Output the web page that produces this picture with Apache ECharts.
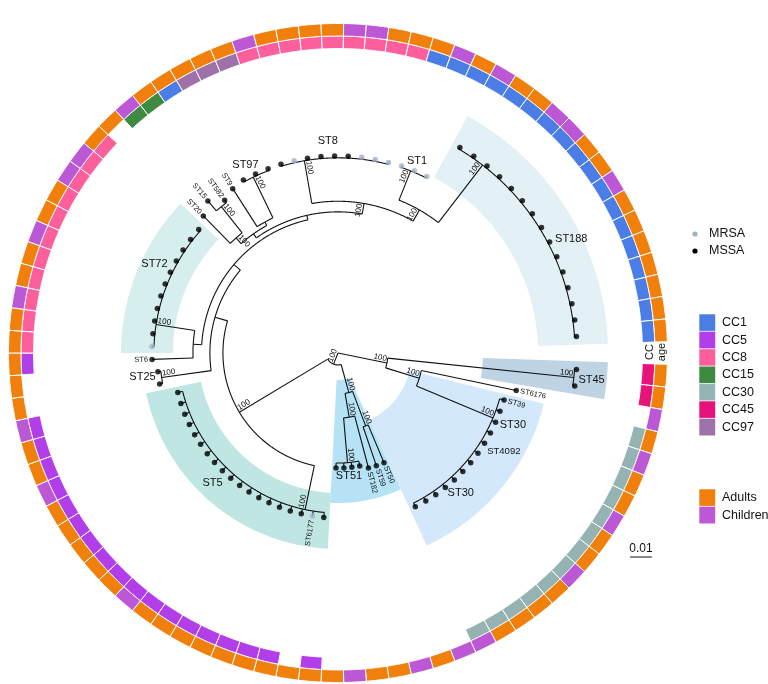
<!DOCTYPE html>
<html>
<head>
<meta charset="utf-8">
<script src="https://cdn.jsdelivr.net/npm/echarts@6/dist/echarts.min.js"></script>
<style>
html,body{margin:0;padding:0;background:#ffffff;}
#chart{width:768px;height:684px;}
</style>
</head>
<body>
<div id="chart"></div>
<script>
// ======================= DATA =======================
// Tips in clockwise order, starting just below 3 o'clock.
const tipSTRuns = [['ST45',2],['ST6176',1],['ST39',1],['ST30',12],['ST50',1],['ST59',1],['ST182',1],['ST51',4],
  ['ST5',1],['ST6177',1],['ST5',17],['ST25',2],['ST6',1],['ST72',11],['ST20',1],['ST15',1],['ST582',1],['ST9',1],
  ['ST97',3],['ST8',9],['ST1',3],['ST188',15]];

const tipCC = [
  'CC45','CC45','','CC30','CC30','CC30','CC30','CC30','CC30','CC30',
  'CC30','CC30','CC30','CC30','CC30','CC30','','','','',
  '','','','CC5','','CC5','CC5','CC5','CC5','CC5',
  'CC5','CC5','CC5','CC5','CC5','CC5','CC5','CC5','CC5','CC5',
  'CC5','CC5','','','CC5','CC8','CC8','CC8','CC8','CC8',
  'CC8','CC8','CC8','CC8','CC8','CC8','','CC15','CC15','CC1',
  'CC97','CC97','CC97','CC8','CC8','CC8','CC8','CC8','CC8','CC8',
  'CC8','CC8','CC1','CC1','CC1','CC1','CC1','CC1','CC1','CC1',
  'CC1','CC1','CC1','CC1','CC1','CC1','CC1','CC1','CC1','CC1'];

const tipAge = [
  'A','A','C','A','C','A','A','C','A','A',
  'C','A','A','A','A','C','C','A','C','A',
  'A','C','A','A','A','A','A','A','A','A',
  'A','A','C','A','A','A','A','A','C','A',
  'A','C','A','A','A','A','A','C','A','A',
  'C','A','A','C','C','A','A','C','A','A',
  'A','A','A','C','A','A','A','A','C','C',
  'A','A','A','C','A','C','A','A','C','C',
  'A','A','C','A','A','A','A','A','A','A'];

const mrsaTips = [25, 46, 65, 70, 71, 72, 73, 74, 75];

// distance of each tip from the root (substitutions / site)
const tipDepth = [
  0.1101,0.1101,0.0839,0.0795,0.0793,0.0793,0.0793,0.0793,0.0793,0.0793,
  0.0793,0.0793,0.0793,0.0793,0.0793,0.0793,0.0548,0.0548,0.0548,0.0530,
  0.0530,0.0530,0.0530,0.0760,0.0760,0.0760,0.0760,0.0760,0.0760,0.0760,
  0.0760,0.0760,0.0760,0.0760,0.0760,0.0760,0.0760,0.0760,0.0760,0.0760,
  0.0760,0.0760,0.0834,0.0834,0.0857,0.0857,0.0857,0.0857,0.0857,0.0857,
  0.0857,0.0857,0.0857,0.0857,0.0857,0.0857,0.0885,0.0922,0.0876,0.0899,
  0.0908,0.0908,0.0908,0.0908,0.0908,0.0908,0.0908,0.0908,0.0908,0.0908,
  0.0908,0.0908,0.0910,0.0910,0.0910,0.1101,0.1101,0.1101,0.1101,0.1101,
  0.1101,0.1101,0.1101,0.1101,0.1101,0.1101,0.1101,0.1101,0.1101,0.1101];

// parent node of each tip (run-length: [node, count])
const tipParentRuns = [['C45',2],['N30',1],['C30',13],['N5059',2],['N182_51',1],['C51b',4],['C5',19],
  ['C25',2],['N6_72',1],['C72',11],['N20_15',1],['N15',2],['N9_97',1],['C97',3],['C8',9],['C1',3],['C188',15]];

// internal nodes
const nodeName    = ['root','NR','C45','N30','C30','NX','C51','N5059','N182_51','C51b','NL','C5','NL2','C25','B','N6_72','C72','NL3','NUL','N20_15','N15','N9_97','C97','N8top','C8','P1','C1','C188'];
const nodeParent  = ['','root','NR','NR','N30','root','NX','C51','C51','N182_51','NX','NL','NL','NL2','NL2','B','N6_72','B','NL3','NUL','N20_15','NUL','N9_97','NL3','N8top','N8top','P1','P1'];
const nodeDepth   = [0,0.0230,0.1092,0.0392,0.0774,0.0055,0.0189,0.0359,0.0300,0.0507,0.0530,0.0737,0.0590,0.0820,0.0629,0.0668,0.0848,0.0650,0.0673,0.0708,0.0862,0.0691,0.0899,0.0699,0.0899,0.0758,0.0903,0.1092];
const nodeSupport = ['','100','100','100','100','100','100','100','100','100','100','100','','100','','','100','','','100','100','','100','100','100','100','100','100'];

// highlighted clades (tip ranges)
const hlClade = ['ST45','ST30','ST51','ST5','ST72','ST188'];
const hlFirst = [1, 4, 17, 24, 46, 76];
const hlLast  = [2, 16, 23, 42, 56, 90];

// clade labels
const cladeLabels = ['ST45','ST30','ST4092','ST30','ST51','ST5','ST25','ST72','ST97','ST8','ST1','ST188'];
// single-tip labels (tip numbers)
const tipLabelTips = [3, 4, 17, 18, 19, 25, 45, 57, 58, 59, 60];

const ccLevels = ['CC1','CC5','CC8','CC15','CC30','CC45','CC97'];
const ageLevels = ['Adults','Children'];
const scaleBarValue = 0.01;

// ======================= STYLE / LAYOUT =======================
const FONT = '"Liberation Sans", Arial, Helvetica, sans-serif';
const U = 0.152 / 330;              // radius-axis units per pixel (for offsets only)
const ccColor = {CC1:'#4b7de6', CC5:'#b13ee8', CC8:'#fd5f9d', CC15:'#3e8a40', CC30:'#96b3b3', CC45:'#e6137b', CC97:'#9f71a9'};
const ageColor = {A:'#f07f0b', C:'#bc57d6'};
const ageKey = {Adults:'A', Children:'C'};
const MRSA_COLOR = '#a3b2c6';
const hlStyle = {
  ST45:  {r0:145, r1:270, color:'#bed3e4'},
  ST30:  {r0:74,  r1:212, color:'#d3e8fb'},
  ST51:  {r0:27,  r1:150, color:'#b5e3f5'},
  ST5:   {r0:140, r1:196, color:'#bfe6e2'},
  ST72:  {r0:165, r1:217, color:'#d6efee'},
  ST188: {r0:200, r1:270, color:'#e3f1f6'}
};
// clade-label anchor: [tip position, radius px, font size]
const cladeLabelPos = [[1.54,255,11],[5.64,189,11],[7.78,193,9.5],[12.31,186,11],[21.46,123.5,11],[33.85,181,11],
  [43.73,197,11],[52.04,204,11],[61.64,210,11],[67.55,212,11],[73.9,208,11],[84.43,259.5,11]];
const RING_CC = [304.5, 317], RING_AGE = [317, 329.5];

// ======================= TREE LAYOUT =======================
const tipST = [];
tipSTRuns.forEach(([s, n]) => { for (let i = 0; i < n; i++) tipST.push(s); });
const tipParent = [];
tipParentRuns.forEach(([s, n]) => { for (let i = 0; i < n; i++) tipParent.push(s); });
const NT = tipCC.length;

const nodes = {};
nodeName.forEach((n, i) => nodes[n] = {name:n, parent:nodeParent[i], depth:nodeDepth[i], support:nodeSupport[i], kids:[], tips:[]});
nodeName.forEach(n => { const p = nodes[n].parent; if (p) nodes[p].kids.push(n); });
tipParent.forEach((p, i) => nodes[p].tips.push(i + 1));

function cat(l) { if (l.length === 1) return l[0]; if (l.length === 2) return (l[0] + l[1]) / 2; return (l[0] + cat(l.slice(1))) / 2; }
function angleOf(n) {
  const nd = nodes[n];
  if (nd.angle != null) return nd.angle;
  const kidA = nd.kids.map(angleOf);
  let a;
  if (nd.kids.length === 0 && nd.tips.length > 2) {
    const l = nd.tips.slice().sort((x, y) => x - y);
    a = l.length >= 4 ? ((l[0] + l[1]) / 2 + cat(l.slice(2))) / 2 : cat(l);
  } else {
    const all = kidA.concat(nd.tips);
    a = all.reduce((s, v) => s + v, 0) / all.length;
  }
  const all = kidA.concat(nd.tips);
  nd.amin = Math.min(...all); nd.amax = Math.max(...all);
  nd.angle = a;
  return a;
}
angleOf('root');

const segs = [];
nodeName.forEach(n => {
  const nd = nodes[n];
  if (nd.parent) segs.push({t:'r', r0:nodes[nd.parent].depth, r1:nd.depth, a:nd.angle});
  if (nd.depth > 0) segs.push({t:'a', r:nd.depth, a0:nd.amin, a1:nd.amax});
});
for (let i = 0; i < NT; i++) segs.push({t:'r', r0:nodes[tipParent[i]].depth, r1:tipDepth[i], a:i + 1});

// ======================= HELPERS =======================
function arcPts(api, r, a0, a1) {
  const pts = []; const n = Math.max(2, Math.ceil(Math.abs(a1 - a0) / 0.05) + 1);
  for (let k = 0; k < n; k++) pts.push(api.coord([r, a0 + (a1 - a0) * k / (n - 1)]));
  return pts;
}
function sectorPts(api, r0, r1, a0, a1) {
  return arcPts(api, r1, a0, a1).concat(arcPts(api, r0, a0, a1).reverse());
}
function screenAngle(api, a) {
  const c = api.coord([0, a]); const p = api.coord([0.05, a]);
  return Math.atan2(p[1] - c[1], p[0] - c[0]);
}
function isLeft(th) { let d = th * 180 / Math.PI; if (d < 0) d += 360; return d > 90 && d < 270; }

// ======================= SERIES =======================
const hlSeries = {
  type:'custom', coordinateSystem:'polar', z:1, silent:true,
  data: hlClade.map((c, i) => [0, hlFirst[i], i]),
  renderItem(params, api) {
    const i = api.value(2); const st = hlStyle[hlClade[i]];
    return {type:'polygon', shape:{points: sectorPts(api, st.r0 * U, st.r1 * U, hlFirst[i] - 0.5, hlLast[i] + 0.5)},
      style:{fill: st.color, stroke:null}};
  }
};

const ringData = [];
for (let i = 0; i < NT; i++) {
  if (tipCC[i]) ringData.push([RING_CC[0] * U, i + 1, 0, i]);
  ringData.push([RING_AGE[0] * U, i + 1, 1, i]);
}
const ringSeries = {
  type:'custom', coordinateSystem:'polar', z:2, silent:true,
  data: ringData,
  renderItem(params, api) {
    const kind = api.value(2), i = api.value(3), a = i + 1;
    const rr = kind === 0 ? RING_CC : RING_AGE;
    const col = kind === 0 ? ccColor[tipCC[i]] : ageColor[tipAge[i]];
    return {type:'polygon', shape:{points: sectorPts(api, rr[0] * U, rr[1] * U, a - 0.5, a + 0.5)},
      style:{fill: col, stroke:'#ffffff', lineWidth:1}};
  }
};

const treeSeries = {
  type:'custom', coordinateSystem:'polar', z:3, silent:true,
  data: segs.map((s, i) => [0, 0, i]),
  renderItem(params, api) {
    const s = segs[api.value(2)];
    const pts = s.t === 'r' ? [api.coord([s.r0, s.a]), api.coord([s.r1, s.a])] : arcPts(api, s.r, s.a0, s.a1);
    return {type:'polyline', shape:{points: pts}, style:{stroke:'#111111', lineWidth:1.1, fill:null}};
  }
};

const dotSeries = {
  type:'scatter', coordinateSystem:'polar', z:4, silent:true, symbol:'circle', symbolSize:5.5,
  data: tipDepth.map((d, i) => ({value:[d, i + 1], itemStyle:{color: mrsaTips.includes(i + 1) ? MRSA_COLOR : '#000000'}}))
};

const supportNodes = nodeName.filter(n => nodes[n].support);
const nodeLabelSeries = {
  type:'custom', coordinateSystem:'polar', z:5, silent:true,
  data: supportNodes.map((n, i) => [nodes[n].depth, nodes[n].angle, i]),
  renderItem(params, api) {
    const nd = nodes[supportNodes[api.value(2)]];
    const p = api.coord([Math.max(nd.depth - 1 * U, 0), nd.angle]);
    const th = screenAngle(api, nd.angle); const left = isLeft(th);
    return {type:'text', x:p[0], y:p[1], rotation: left ? -(th + Math.PI) : -th,
      style:{text: nd.support, fontSize:8, fontFamily:FONT, fill:'#111', align: left ? 'left' : 'right', verticalAlign:'bottom'}};
  }
};

const tipLabelSeries = {
  type:'custom', coordinateSystem:'polar', z:5, silent:true,
  data: tipLabelTips.map((t, i) => [tipDepth[t - 1], t, i]),
  renderItem(params, api) {
    const t = tipLabelTips[api.value(2)];
    const p = api.coord([tipDepth[t - 1] + 4 * U, t]);
    const th = screenAngle(api, t); const left = isLeft(th);
    return {type:'text', x:p[0], y:p[1], rotation: left ? -(th + Math.PI) : -th,
      style:{text: tipST[t - 1], fontSize:7.5, fontFamily:FONT, fill:'#111', align: left ? 'right' : 'left', verticalAlign:'middle'}};
  }
};

const cladeLabelSeries = {
  type:'custom', coordinateSystem:'polar', z:5, silent:true,
  data: cladeLabels.map((c, i) => [cladeLabelPos[i][1] * U, cladeLabelPos[i][0], i]),
  renderItem(params, api) {
    const i = api.value(2); const lp = cladeLabelPos[i];
    const p = api.coord([lp[1] * U, lp[0]]);
    return {type:'text', x:p[0], y:p[1],
      style:{text: cladeLabels[i], fontSize: lp[2], fontFamily:FONT, fill:'#111', align:'center', verticalAlign:'middle'}};
  }
};

const scaleSeries = {
  type:'custom', coordinateSystem:'polar', z:5, silent:true,
  data: [[0, 0, 0]],
  renderItem(params, api) {
    const p0 = api.coord([0, 0]), p1 = api.coord([scaleBarValue, 0]);
    const len = Math.hypot(p1[0] - p0[0], p1[1] - p0[1]);
    const x0 = 641 - len / 2, y = 557;
    return {type:'group', children:[
      {type:'line', shape:{x1:x0, y1:y, x2:x0 + len, y2:y}, style:{stroke:'#111', lineWidth:1}},
      {type:'text', x:x0 + len / 2, y:y - 2, style:{text: String(scaleBarValue), fontSize:12, fontFamily:FONT, fill:'#111', align:'center', verticalAlign:'bottom'}}
    ]};
  }
};

// ======================= LEGEND (graphic) =======================
const graphic = [];
graphic.push({type:'circle', shape:{cx:695, cy:234, r:2.6}, style:{fill:MRSA_COLOR}});
graphic.push({type:'text', x:709, y:234, style:{text:'MRSA', fontSize:12.5, fontFamily:FONT, fill:'#111', verticalAlign:'middle'}});
graphic.push({type:'circle', shape:{cx:695, cy:251, r:2.6}, style:{fill:'#000'}});
graphic.push({type:'text', x:709, y:251, style:{text:'MSSA', fontSize:12.5, fontFamily:FONT, fill:'#111', verticalAlign:'middle'}});
ccLevels.forEach((c, i) => {
  const y = 314 + i * 17.4;
  graphic.push({type:'rect', shape:{x:699, y:y, width:16.5, height:17.4}, style:{fill:ccColor[c], stroke:'#fff', lineWidth:0.6}});
  graphic.push({type:'text', x:722, y:y + 8.7, style:{text:c, fontSize:12.5, fontFamily:FONT, fill:'#111', verticalAlign:'middle'}});
});
ageLevels.forEach((c, i) => {
  const y = 489 + i * 17.4;
  graphic.push({type:'rect', shape:{x:699, y:y, width:16.5, height:17.4}, style:{fill:ageColor[ageKey[c]], stroke:'#fff', lineWidth:0.6}});
  graphic.push({type:'text', x:722, y:y + 8.7, style:{text:c, fontSize:12.5, fontFamily:FONT, fill:'#111', verticalAlign:'middle'}});
});
graphic.push({type:'text', x:650, y:352, rotation:Math.PI / 2, style:{text:'CC', fontSize:11, fontFamily:FONT, fill:'#111', align:'center', verticalAlign:'middle'}});
graphic.push({type:'text', x:662, y:352, rotation:Math.PI / 2, style:{text:'age', fontSize:11, fontFamily:FONT, fill:'#111', align:'center', verticalAlign:'middle'}});

// ======================= CHART =======================
const chart = echarts.init(document.getElementById('chart'), null, {renderer:'canvas'});
chart.setOption({
  animation:false,
  backgroundColor:'#ffffff',
  polar:{center:[338, 353], radius:330},
  angleAxis:{type:'value', min:0, max:NT + 1, startAngle:0, clockwise:true, show:false,
    axisLine:{show:false}, axisTick:{show:false}, axisLabel:{show:false}, splitLine:{show:false}},
  radiusAxis:{type:'value', min:0, max:0.152, show:false,
    axisLine:{show:false}, axisTick:{show:false}, axisLabel:{show:false}, splitLine:{show:false}},
  graphic: graphic,
  series:[hlSeries, ringSeries, treeSeries, dotSeries, nodeLabelSeries, tipLabelSeries, cladeLabelSeries, scaleSeries]
});
</script>
</body>
</html>
